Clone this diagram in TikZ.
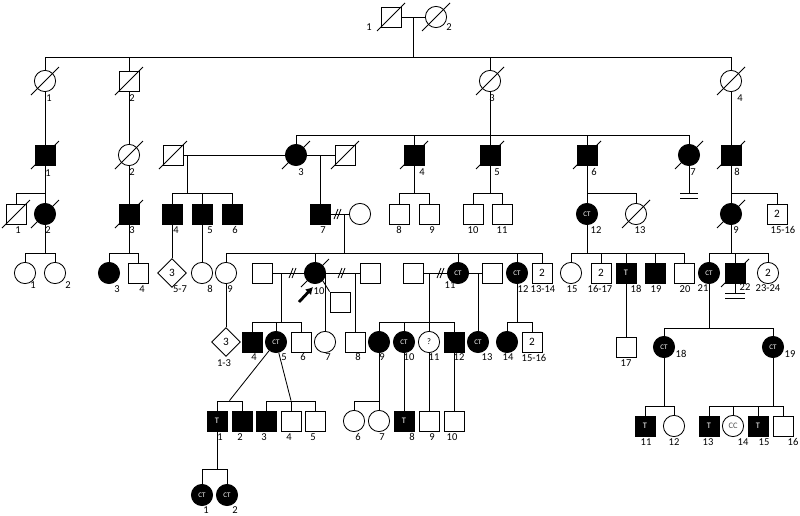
\documentclass[tikz,border=0pt]{standalone}
\usepackage{fontspec}
\setmainfont{Carlito}
\usetikzlibrary{calc,shapes.geometric,arrows.meta}

\tikzset{
  male/.style={draw, rectangle, minimum size=5mm, inner sep=0pt},
  female/.style={draw, circle, minimum size=5.3mm, inner sep=0pt},
  unk/.style={draw, diamond, minimum size=7.2mm, inner sep=0pt},
  aff/.style={fill=black, text=white},
  ct/.style={female, aff, font=\fontsize{5}{5}\selectfont},
  tmark/.style={font=\fontsize{6}{6}\selectfont},
  lab/.style={inner sep=0pt, font=\fontsize{7.5}{8}\selectfont},
}
\newcommand{\dead}[1]{\draw ([shift={(-14,14)}]#1.center) -- ([shift={(14,-14)}]#1.center);}
\newcommand{\divmark}[2]{\draw (#1-4,#2+5) -- (#1,#2-5) (#1-1,#2+5) -- (#1+3,#2-5);}

\begin{document}
\begin{tikzpicture}[x=0.025cm, y=-0.025cm, line width=0.6pt, font=\fontsize{8}{8}\selectfont]
        \useasboundingbox (0,0) rectangle (800,515);

        % Draw generation I
        \node[male] (I1) at (391,17) {};
        \node[female] (I2) at (436,17) {};
        \draw (I1) -- (I2);
        \draw ($(I1)!0.5!(I2)$) -- ++(0,40);

        % Draw generation II
        \node[female] (II1) at (45,81) {};
        \node[male] (II2) at (129,81) {};
        \node[female] (II3) at (490,81) {};
        \node[female] (II4) at (731,81) {};
        \draw (II1.north) |- (II4.north |- 0,57) -- (II4.north);
        \draw (II2.north) -- (II2.north |- 0,57);
        \draw (II3.north) -- (II3.north |- 0,57);

        % Draw generation III
        \node[male, aff] (III1) at (45,155) {};
        \node[female] (III2) at (129,155) {};
        \node[male] (IIIa) at (173,155) {};
        \node[female, aff] (III3) at (296,155) {};
        \node[male] (IIIb) at (345,155) {};
        \node[male, aff] (III4) at (414,155) {};
        \node[male, aff] (III5) at (490,155) {};
        \node[male, aff] (III6) at (587,155) {};
        \node[female, aff] (III7) at (689,155) {};
        \node[male, aff] (III8) at (731,155) {};
        \draw (II1) -- (III1);
        \draw (II2) -- (III2);
        \draw (II3) -- (III5);
        \draw (II4) -- (III8);
        \draw (III3.north) |- (III7.north |- 0,135) -- (III7.north);
        \draw (III4.north) -- (III4.north |- 0,135);
        \draw (III6.north) -- (III6.north |- 0,135);
        \draw (IIIa) -- (III3);
        \draw (III3) -- (IIIb);

        % Draw generation IV
        \node[male] (IV1) at (16,214) {};
        \node[female, aff] (IV2) at (45,214) {};
        \node[male, aff] (IV3) at (129,214) {};
        \node[male, aff] (IV4) at (172,214) {};
        \node[male, aff] (IV5) at (202,214) {};
        \node[male, aff] (IV6) at (232,214) {};
        \node[male, aff] (IV7) at (320,214) {};
        \node[female] (IVa) at (360,214) {};
        \node[male] (IV8) at (399,214) {};
        \node[male] (IV9) at (429,214) {};
        \node[male] (IV10) at (473,214) {};
        \node[male] (IV11) at (502,214) {};
        \node[ct] (IV12) at (587,214) {CT};
        \node[female] (IV13) at (636,214) {};
        \node[female, aff] (IV14) at (731,214) {};
        \node[male] (IV15) at (777,214) {2};
        \draw (III1) -- (IV2);
        \draw (IV1.north) |- (IV2.north |- 0,193);
        \draw (III2) -- (IV3);
        \draw ($(IIIa.east)+(4,0)$) -- ++(0,38);
        \draw (IV4.north) |- (IV6.north |- 0,193) -- (IV6.north);
        \draw (IV5.north) -- (IV5.north |- 0,193);
        \draw (IV7) -- (IV7 |- III3);
        \draw (III4) -- (III4 |- 0,193);
        \draw (IV8.north) |- (IV9.north |- 0,193) -- (IV9.north);
        \draw (III5) -- (III5 |- 0,193);
        \draw (IV10.north) |- (IV11.north |- 0,193) -- (IV11.north);
        \draw (III6) -- (IV12);
        \draw (IV12.north) |- (IV13.north |- 0,193) -- (IV13.north);
        \draw (III7) -- (III7 |- 0,193);
        \draw (680,193) -- (698,193) (680,198) -- (698,198);
        \draw (III8) -- (IV14);
        \draw (IV14.north) |- (IV15.north |- 0,193) -- (IV15.north);
        \draw (IV7) -- (IVa);
        \divmark{338}{214}

        % Draw generation V
        \node[female] (V1) at (25,273) {};
        \node[female] (V2) at (55,273) {};
        \node[female, aff] (V3) at (109,273) {};
        \node[male] (V4) at (138,273) {};
        \node[unk] (V5) at (172,273) {3};
        \node[female] (V8) at (202,273) {};
        \node[female] (V9) at (226,273) {};
        \node[male] (Va) at (262,273) {};
        \node[female, aff] (V10) at (315,273) {};
        \node[male] (Vb) at (370,273) {};
        \node[male] (Vc) at (340,302) {};
        \node[male] (Vd) at (413,273) {};
        \node[ct] (V11) at (458,273) {CT};
        \node[male] (Ve) at (492,273) {};
        \node[ct] (V12) at (517,273) {CT};
        \node[male] (V13) at (542,273) {2};
        \node[female] (V15) at (571,273) {};
        \node[male] (V16) at (601,273) {2};
        \node[male, aff, tmark] (V18) at (626,273) {T};
        \node[male, aff] (V19) at (655,273) {};
        \node[male] (V20) at (684,273) {};
        \node[ct] (V21) at (709,273) {CT};
        \node[male, aff] (V22) at (735,273) {};
        \node[female] (V23) at (768,273) {2};
        \draw (IV2) -- (IV2 |- 0,253);
        \draw (V1.north) |- (V2.north |- 0,253) -- (V2.north);
        \draw (IV3) -- (IV3 |- 0,253);
        \draw (V3.north) |- (V4.north |- 0,253) -- (V4.north);
        \draw (IV4) -- (V5);
        \draw (IV5) -- (V8);
        \draw ($(IV7)!0.62!(IVa)$) -- ++(0,39);
        \draw (V9.north) |- (V13.north |- 0,253) -- (V13.north);
        \draw (V10.north) -- (V10.north |- 0,253);
        \draw (V11.north) -- (V11.north |- 0,253);
        \draw (V12.north) -- (V12.north |- 0,253);
        \draw (IV12) -- (IV12 |- 0,253);
        \draw (V15.north) |- (V20.north |- 0,253) -- (V20.north);
        \foreach \n in {V16,V18,V19} \draw (\n.north) -- (\n.north |- 0,253);
        \draw (IV14) -- (IV14 |- 0,253);
        \draw (V21.north) |- (V23.north |- 0,253) -- (V23.north);
        \draw (V22.north) -- (V22.north |- 0,253);
        \draw (V22) -- (V22 |- 0,293);
        \draw (725,293) -- (745,293) (725,298) -- (745,298);
        \draw (Va) -- (V10);
        \divmark{293}{273}
        \draw (V10) -- (Vb);
        \divmark{342}{273}
        \draw (V10.south east) -- (Vc.north west);
        \draw (Vd) -- (V11);
        \divmark{441}{273}
        \draw (V11) -- (Ve);

        % Draw generation VI
        \node[unk] (VI1) at (226,342) {3};
        \node[male, aff] (VI4) at (252,342) {};
        \node[ct] (VI5) at (276,342) {CT};
        \node[male] (VI6) at (301,342) {};
        \node[female] (VI7) at (325,342) {};
        \node[male] (VI8) at (355,342) {};
        \node[female, aff] (VI9) at (379,342) {};
        \node[ct] (VI10) at (404,342) {CT};
        \node[female, font=\fontsize{6}{6}\selectfont] (VI11) at (429,342) {?};
        \node[male, aff] (VI12) at (454,342) {};
        \node[ct] (VI13) at (478,342) {CT};
        \node[female, aff] (VI14) at (507,342) {};
        \node[male] (VI15) at (532,342) {2};
        \node[male] (VI17) at (626,347) {};
        \node[ct] (VI18) at (664,347) {CT};
        \node[ct] (VI19) at (773,347) {CT};
        \draw (V9) -- (VI1);
        \draw ($(Va.east)+(9,0)$) -- ++(0,49);
        \draw (VI4.north) |- (VI6.north |- 0,322) -- (VI6.north);
        \draw (VI5.north) -- (VI5.north |- 0,322);
        \draw (VI7) -- (VI7 |- V10);
        \draw (VI8) -- (VI8 |- Vb);
        \draw (VI11) -- (VI11 |- V11);
        \draw (VI9.north) |- (VI12.north |- 0,322) -- (VI12.north);
        \draw (VI10.north) -- (VI10.north |- 0,322);
        \draw (VI13) -- (VI13 |- Ve);
        \draw (V12) -- (V12 |- 0,322);
        \draw (VI14.north) |- (VI15.north |- 0,322) -- (VI15.north);
        \draw (V18) -- (VI17);
        \draw (V21) -- (V21 |- 0,328);
        \draw (VI18.north) |- (VI19.north |- 0,328) -- (VI19.north);

        % Draw generation VII
        \node[male, aff, tmark] (VII1) at (217,421) {T};
        \node[male, aff] (VII2) at (242,421) {};
        \node[male, aff] (VII3) at (266,421) {};
        \node[male] (VII4) at (291,421) {};
        \node[male] (VII5) at (315,421) {};
        \node[female] (VII6) at (354,421) {};
        \node[female] (VII7) at (379,421) {};
        \node[male, aff, tmark] (VII8) at (404,421) {T};
        \node[male] (VII9) at (429,421) {};
        \node[male] (VII10) at (454,421) {};
        \node[male, aff, tmark] (VII11) at (645,426) {T};
        \node[female] (VII12) at (674,426) {};
        \node[male, aff, tmark] (VII13) at (709,426) {T};
        \node[female, font=\fontsize{6}{6}\selectfont, text=black!70] (VII14) at (733,426) {CC};
        \node[male, aff, tmark] (VII15) at (758,426) {T};
        \node[male] (VII16) at (783,426) {};
        \draw (VI5) -- ($(VII1.north)!0.5!(VII2.north)+(0,-10)$);
        \draw (VII1.north) |- (VII2.north |- 0,401) -- (VII2.north);
        \draw (VI5) -- ($(VII4.north)+(0,-10)$);
        \draw (VII3.north) |- (VII5.north |- 0,401) -- (VII5.north);
        \draw (VII4.north) -- (VII4.north |- 0,401);
        \draw (VI9) -- (VII7);
        \draw (VII6.north) |- (VII7.north |- 0,401);
        \draw (VI10) -- (VII8);
        \draw (VI11) -- (VII9);
        \draw (VI12) -- (VII10);
        \draw (VI18) -- (VI18 |- 0,406);
        \draw (VII11.north) |- (VII12.north |- 0,406) -- (VII12.north);
        \draw (VI19) -- (VI19 |- 0,406);
        \draw (VII13.north) |- (VII16.north |- 0,406) -- (VII16.north);
        \draw (VII14.north) -- (VII14.north |- 0,406);
        \draw (VII15.north) -- (VII15.north |- 0,406);

        % Draw generation VIII
        \node[ct] (VIII1) at (202,495) {CT};
        \node[ct] (VIII2) at (227,495) {CT};
        \draw (VII1) -- (VII1 |- 0,469);
        \draw (VIII1.north) |- (VIII2.north |- 0,469) -- (VIII2.north);

        % Mark the deceased
        \foreach \n in {I1,I2,II1,II2,II3,II4,III1,III2,IIIa,III3,IIIb,III4,III5,III6,III7,III8,IV1,IV2,IV3,IV13,IV14,V10,V22}
            {\dead{\n}}

        % Proband arrow
        \coordinate (pb) at (299,302);
        \draw[-{Latex[length=5pt,width=6pt]}, line width=2pt] (pb) -- ++(14,-15);

        % Numbers under the symbols
        \foreach \x/\y/\t [count=\i] in {369/27/1, 449/27/2,
            49/98/1, 132/98/2, 492/98/3, 740/98/4,
            48/173/1, 132/172/2, 301/172/3, 422/172/4, 497/172/5, 594/172/6, 693/172/7, 737/172/8,
            18/230/1, 48/230/2, 132/230/3, 176/230/4, 210/230/5, 235/230/6, 323/230/7, 399/230/8, 432/230/9,
            473/230/10, 502/230/11, 596/230/12, 640/230/13, 736/230/9, 783/230/15-16,
            33/285/1, 68/285/2, 117/289/3, 142/289/4, 180/289/5-7, 210/289/8, 230/289/9, 319/291/10,
            450/285/11, 523/289/12, 543/289/13-14, 572/289/15, 600/289/16-17, 636/289/18, 656/289/19,
            685/289/20, 703/288/21, 745/287/22, 768/288/23-24,
            224/363/1-3, 254/357/4, 284/357/5, 303/357/6, 328/357/7, 358/357/8, 382/357/9, 409/357/10,
            434/357/11, 459/357/12, 487/357/13, 508/357/14, 534/358/15-16, 626/363/17, 681/354/18, 790/354/19,
            220/437/1, 240/437/2, 264/437/3, 289/437/4, 313/437/5, 358/437/6, 382/437/7, 412/437/8,
            432/437/9, 452/437/10, 646/442/11, 674/442/12, 708/442/13, 743/442/14, 764/442/15, 793/442/16,
            206/510/1, 235/510/2}
            \node[lab] (n\i) at (\x,\y) {\t};
\end{tikzpicture}
\end{document}
